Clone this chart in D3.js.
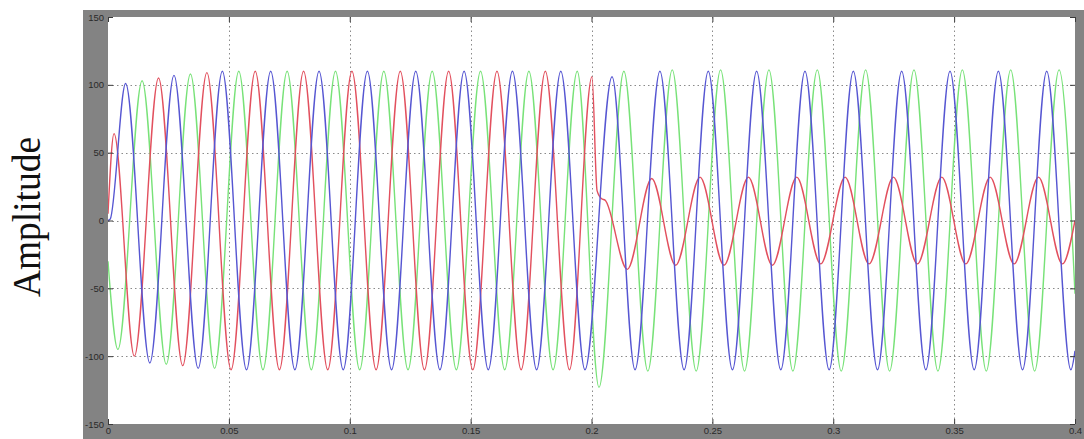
<!DOCTYPE html>
<html>
<head>
<meta charset="utf-8">
<script src="https://cdn.jsdelivr.net/npm/d3@7"></script>
<style>
  html, body { margin: 0; padding: 0; background: #ffffff; }
  svg { display: block; }
</style>
</head>
<body>
<svg id="chart" width="1084" height="439"></svg>
<script>
// Axis ticks
const timeTicks = [0, 0.05, 0.1, 0.15, 0.2, 0.25, 0.3, 0.35, 0.4];
const timeLabels = ["0", "0.05", "0.1", "0.15", "0.2", "0.25", "0.3", "0.35", "0.4"];
const ampTicks = [-150, -100, -50, 0, 50, 100, 150];
const ampLabels = ["-150", "-100", "-50", "0", "50", "100", "150"];

// Waveform turning points [time s, amplitude] for each phase
const phaseA = [
  [0, 5], [0.0025, 64], [0.0109, -100], [0.0209, 105], [0.0309, -107],
  [0.0409, 109], [0.0509, -110], [0.0609, 110], [0.0709, -110], [0.0809, 110],
  [0.0909, -110], [0.1009, 110], [0.1109, -110], [0.1209, 110], [0.1309, -110],
  [0.1409, 110], [0.1509, -110], [0.1609, 110], [0.1709, -110], [0.1809, 110],
  [0.1909, -110], [0.2002, 106], [0.2023, 22], [0.2042, 16], [0.2056, 15],
  [0.2148, -36], [0.2249, 31], [0.2348, -33], [0.2449, 32], [0.2548, -33],
  [0.2649, 32], [0.2748, -33], [0.2849, 32], [0.2948, -32], [0.3049, 32],
  [0.3148, -32], [0.3249, 32], [0.3348, -32], [0.3449, 32], [0.3548, -32],
  [0.3649, 32], [0.3748, -32], [0.3849, 32], [0.3948, -32], [0.4, 0]
];
const phaseB = [
  [0, 0], [0.0009, 1], [0.0073, 101], [0.0173, -105], [0.0273, 107],
  [0.0373, -109], [0.0473, 110], [0.0573, -110], [0.0673, 110], [0.0773, -110],
  [0.0873, 110], [0.0973, -110], [0.1073, 110], [0.1173, -110], [0.1273, 110],
  [0.1373, -110], [0.1473, 110], [0.1573, -110], [0.1673, 110], [0.1773, -110],
  [0.1873, 110], [0.1973, -110], [0.2085, 106], [0.2180, -110], [0.2283, 110],
  [0.2383, -110], [0.2483, 110], [0.2583, -110], [0.2683, 110], [0.2783, -110],
  [0.2883, 110], [0.2983, -110], [0.3083, 110], [0.3183, -110], [0.3283, 110],
  [0.3383, -110], [0.3483, 110], [0.3583, -110], [0.3683, 110], [0.3783, -110],
  [0.3883, 110], [0.3983, -110], [0.4, -96]
];
const phaseC = [
  [0, -30], [0.0041, -95], [0.0141, 103], [0.0241, -106], [0.0341, 108],
  [0.0441, -109], [0.0541, 110], [0.0641, -110], [0.0741, 110], [0.0841, -110],
  [0.0941, 110], [0.1041, -110], [0.1141, 110], [0.1241, -110], [0.1341, 110],
  [0.1441, -110], [0.1541, 110], [0.1641, -110], [0.1741, 110], [0.1841, -110],
  [0.1941, 110], [0.2031, -123], [0.2134, 110], [0.2233, -111], [0.2334, 111],
  [0.2433, -111], [0.2534, 111], [0.2633, -111], [0.2734, 111], [0.2833, -111],
  [0.2934, 111], [0.3033, -111], [0.3134, 111], [0.3233, -111], [0.3334, 111],
  [0.3433, -111], [0.3534, 111], [0.3633, -111], [0.3734, 111], [0.3833, -111],
  [0.3934, 111], [0.4, -54]
];

const seriesList = [
  { name: "C", data: phaseC, color: "#78e278" },
  { name: "A", data: phaseA, color: "#e2505e" },
  { name: "B", data: phaseB, color: "#5656d2" }
];

const svg = d3.select("#chart");
const plot = { left: 108, right: 1075, top: 17, bottom: 424 };

// Scope frame
svg.append("rect")
  .attr("x", 83).attr("y", 10)
  .attr("width", 1084 - 83).attr("height", 439 - 10)
  .attr("fill", "#838383");
svg.append("rect")
  .attr("x", plot.left).attr("y", plot.top)
  .attr("width", plot.right - plot.left).attr("height", plot.bottom - plot.top)
  .attr("fill", "#ffffff");

const x = d3.scaleLinear().domain([0, 0.4]).range([plot.left, plot.right]);
const y = d3.scaleLinear().domain([-150, 150]).range([plot.bottom, plot.top]);

// Dotted grid
const grid = svg.append("g").attr("stroke", "#8a8a8a").attr("stroke-width", 1)
  .attr("stroke-dasharray", "1.5,3");
grid.selectAll(".vg").data(timeTicks.slice(1, -1)).join("line")
  .attr("x1", d => Math.round(x(d)) + 0.5).attr("x2", d => Math.round(x(d)) + 0.5)
  .attr("y1", plot.top).attr("y2", plot.bottom);
grid.selectAll(".hg").data(ampTicks.slice(1, -1)).join("line")
  .attr("x1", plot.left).attr("x2", plot.right)
  .attr("y1", d => Math.round(y(d)) + 0.5).attr("y2", d => Math.round(y(d)) + 0.5);

// Waveforms
const line = d3.line()
  .x(d => x(d[0]))
  .y(d => y(d[1]))
  .curve(d3.curveMonotoneX);

const clip = svg.append("clipPath").attr("id", "plotClip").append("rect")
  .attr("x", plot.left).attr("y", plot.top)
  .attr("width", plot.right - plot.left).attr("height", plot.bottom - plot.top);

svg.append("g").attr("clip-path", "url(#plotClip)")
  .selectAll("path").data(seriesList).join("path")
  .attr("fill", "none")
  .attr("stroke", d => d.color)
  .attr("stroke-width", 1.4)
  .attr("stroke-linejoin", "round")
  .attr("d", d => line(d.data));

// Axes with inward ticks
function styleAxis(g) {
  g.select(".domain").remove();
  g.selectAll(".tick line").attr("stroke", "#3a3a3a");
  g.selectAll(".tick text")
    .attr("fill", "#2a2a2a")
    .style("font-family", "'Liberation Sans', Arial, sans-serif")
    .style("font-size", "9.5px");
}

svg.append("g")
  .attr("transform", `translate(0,${plot.bottom})`)
  .call(d3.axisBottom(x).tickValues(timeTicks).tickFormat((d, i) => timeLabels[i])
    .tickSize(-5).tickPadding(3))
  .call(styleAxis);
svg.append("g")
  .attr("transform", `translate(0,${plot.top})`)
  .call(d3.axisTop(x).tickValues(timeTicks).tickFormat("").tickSize(-5))
  .call(styleAxis);
svg.append("g")
  .attr("transform", `translate(${plot.left},0)`)
  .call(d3.axisLeft(y).tickValues(ampTicks).tickFormat((d, i) => ampLabels[i])
    .tickSize(-5).tickPadding(4))
  .call(styleAxis);
svg.append("g")
  .attr("transform", `translate(${plot.right},0)`)
  .call(d3.axisRight(y).tickValues(ampTicks).tickFormat("").tickSize(-5))
  .call(styleAxis);

// Y axis title
svg.append("text")
  .attr("transform", "translate(40,217) rotate(-90)")
  .attr("text-anchor", "middle")
  .attr("textLength", 160)
  .attr("lengthAdjust", "spacingAndGlyphs")
  .style("font-family", "'Liberation Serif', 'Times New Roman', serif")
  .style("font-size", "40px")
  .attr("fill", "#111")
  .text("Amplitude");
</script>
</body>
</html>
